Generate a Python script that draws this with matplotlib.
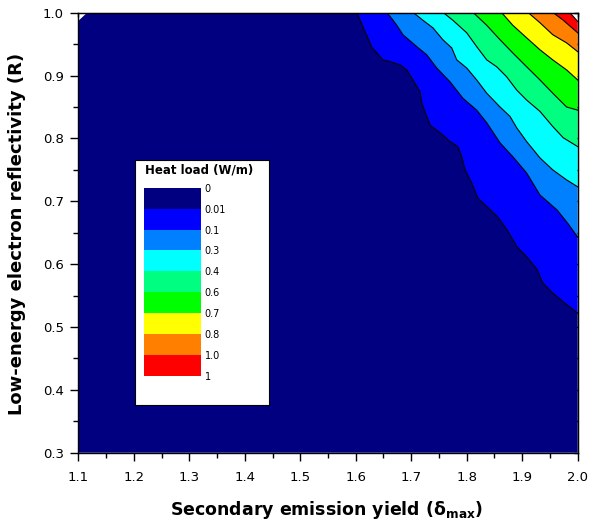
import numpy as np
import matplotlib
matplotlib.use('Agg')
import matplotlib.pyplot as plt
from matplotlib.colors import ListedColormap, BoundaryNorm
from matplotlib.cm import ScalarMappable

plt.rcParams['font.family'] = ['DejaVu Sans']

# ---------------- data ----------------
level_labels = ['0', '0.01', '0.1', '0.3', '0.4', '0.6', '0.7', '0.8', '1.0', '1']
band_colors = ['#000080', '#0000FF', '#0080FF', '#00FFFF', '#00FF80',
               '#00FF00', '#FFFF00', '#FF8000', '#FF0000']

# contour boundaries (delta_max, R), from top edge to right edge
# 0 / 0.01
b0_x = [1.602, 1.629, 1.649, 1.662, 1.680, 1.692, 1.703, 1.716, 1.719, 1.734, 1.752, 1.770, 1.784,
        1.791, 1.797, 1.809, 1.820, 1.837, 1.856, 1.873, 1.891, 1.909, 1.927, 1.937, 1.955, 1.981, 2.0]
b0_y = [1.000, 0.945, 0.925, 0.922, 0.917, 0.909, 0.893, 0.874, 0.856, 0.821, 0.809, 0.795, 0.787,
        0.771, 0.750, 0.729, 0.705, 0.691, 0.675, 0.654, 0.627, 0.611, 0.591, 0.570, 0.554, 0.535, 0.522]
# 0.01 / 0.1
b1_x = [1.656, 1.662, 1.674, 1.685, 1.710, 1.728, 1.746, 1.770, 1.793, 1.818, 1.836, 1.860, 1.883,
        1.908, 1.932, 1.963, 1.982, 2.0]
b1_y = [1.000, 0.994, 0.980, 0.965, 0.946, 0.933, 0.912, 0.890, 0.864, 0.845, 0.825, 0.793, 0.771,
        0.745, 0.710, 0.686, 0.665, 0.643]
# 0.1 / 0.3
b2_x = [1.704, 1.721, 1.739, 1.757, 1.773, 1.782, 1.800, 1.818, 1.836, 1.860, 1.878, 1.890, 1.908,
        1.932, 1.955, 1.980, 2.0]
b2_y = [1.000, 0.988, 0.976, 0.957, 0.944, 0.925, 0.912, 0.893, 0.872, 0.850, 0.835, 0.817, 0.795,
        0.769, 0.750, 0.734, 0.723]
# 0.3 / 0.4
b3_x = [1.758, 1.775, 1.800, 1.818, 1.836, 1.854, 1.872, 1.890, 1.908, 1.932, 1.955, 1.974, 2.0]
b3_y = [1.000, 0.988, 0.968, 0.946, 0.925, 0.914, 0.898, 0.877, 0.861, 0.843, 0.819, 0.801, 0.787]
# 0.4 / 0.6
b4_x = [1.812, 1.836, 1.860, 1.883, 1.908, 1.932, 1.955, 1.980, 2.0]
b4_y = [1.000, 0.980, 0.957, 0.936, 0.914, 0.893, 0.872, 0.850, 0.845]
# 0.6 / 0.7
b5_x = [1.863, 1.883, 1.908, 1.932, 1.955, 1.980, 2.0]
b5_y = [1.000, 0.980, 0.960, 0.941, 0.925, 0.909, 0.893]
# 0.7 / 0.8
b6_x = [1.911, 1.932, 1.955, 1.980, 2.0]
b6_y = [1.000, 0.984, 0.965, 0.952, 0.938]
# 0.8 / 1.0
b7_x = [1.956, 1.974, 2.0]
b7_y = [1.000, 0.988, 0.968]
# 1.0 / 1 (upper limit)
b8_x = [1.986, 2.0]
b8_y = [1.000, 0.986]

# unfilled corner at top-left (below lowest level)
corner_x = 1.116
corner_y = 0.987

x_ticks = [1.1, 1.2, 1.3, 1.4, 1.5, 1.6, 1.7, 1.8, 1.9, 2.0]
x_tick_labels = ['1.1', '1.2', '1.3', '1.4', '1.5', '1.6', '1.7', '1.8', '1.9', '2.0']
y_ticks = [0.3, 0.4, 0.5, 0.6, 0.7, 0.8, 0.9, 1.0]
y_tick_labels = ['0.3', '0.4', '0.5', '0.6', '0.7', '0.8', '0.9', '1.0']
x_lim = (1.1, 2.0)
y_lim = (0.3, 1.0)

# ---------------- figure ----------------
fig = plt.figure(figsize=(5.9, 5.25), dpi=100)
ax = fig.add_axes([78.3 / 590, 1 - 452.7 / 525, 499.4 / 590, 440 / 525])
ax.set_facecolor('white')

bx = [b0_x, b1_x, b2_x, b3_x, b4_x, b5_x, b6_x, b7_x, b8_x]
by = [b0_y, b1_y, b2_y, b3_y, b4_y, b5_y, b6_y, b7_y, b8_y]

# lowest band (navy)
px = [x_lim[0], x_lim[1]] + b0_x[::-1] + [corner_x, x_lim[0]]
py = [y_lim[0], y_lim[0]] + b0_y[::-1] + [y_lim[1], corner_y]
ax.fill(px, py, color=band_colors[0], lw=0)

for i in range(1, 9):
    px = list(bx[i - 1]) + list(bx[i][::-1])
    py = list(by[i - 1]) + list(by[i][::-1])
    ax.fill(px, py, color=band_colors[i], lw=0)

for xs, ys in zip(bx, by):
    ax.plot(xs, ys, color='black', lw=0.8)

ax.set_xlim(*x_lim)
ax.set_ylim(*y_lim)
ax.set_xticks(x_ticks)
ax.set_xticklabels(x_tick_labels)
ax.set_yticks(y_ticks)
ax.set_yticklabels(y_tick_labels)
ax.set_xticks(np.arange(1.15, 2.0, 0.1), minor=True)
ax.set_yticks(np.arange(0.35, 1.0, 0.1), minor=True)
ax.tick_params(which='major', direction='out', length=6, width=1.0, labelsize=9.5, color='black')
ax.tick_params(which='minor', direction='out', length=3.5, width=1.0)
ax.tick_params(axis='y', which='major', pad=4.5)
ax.tick_params(axis='x', which='major', pad=7)
for s in ax.spines.values():
    s.set_linewidth(1.0)

secx = ax.secondary_xaxis('top')
secx.set_xticks(np.arange(1.1, 2.001, 0.05))
secx.tick_params(direction='in', length=3, width=1.0, labeltop=False)
secy = ax.secondary_yaxis('right')
secy.set_yticks(np.arange(0.3, 1.001, 0.05))
secy.tick_params(direction='in', length=3, width=1.0, labelright=False)

fig.text(327 / 590, 10 / 525, r'Secondary emission yield (δ$_{\mathregular{max}}$)',
         ha='center', va='baseline', fontsize=12.5, fontweight='bold')
fig.text(17.5 / 590, 1 - 234 / 525, 'Low-energy electron reflectivity (R)',
         ha='center', va='center', rotation=90, fontsize=13, fontweight='bold')

# ---------------- legend box ----------------
box = fig.add_axes([135 / 590, 1 - 405 / 525, 134 / 590, 245 / 525])
box.set_facecolor('white')
box.set_xticks([])
box.set_yticks([])
for s in box.spines.values():
    s.set_linewidth(0.8)
    s.set_color('black')
box.text(0.075, 0.959, 'Heat load (W/m)', transform=box.transAxes, fontsize=8.5,
         fontweight='bold', va='center', ha='left')

cax = fig.add_axes([144 / 590, 1 - 376 / 525, 57 / 590, 188.3 / 525])
sm = ScalarMappable(norm=BoundaryNorm(np.arange(10), 9), cmap=ListedColormap(band_colors))
cb = fig.colorbar(sm, cax=cax, ticks=np.arange(10))
cb.set_ticklabels(level_labels)
cb.outline.set_visible(False)
cax.invert_yaxis()
cax.tick_params(length=0, pad=2.5, labelsize=7)

fig.savefig('out.png', dpi=100)
